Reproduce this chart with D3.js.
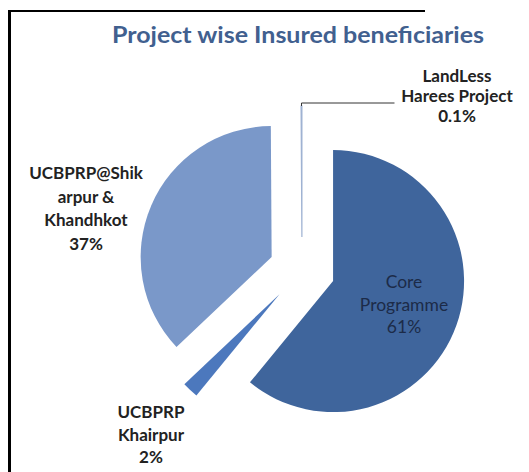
<!DOCTYPE html>
<html lang="en">
<head>
  <meta charset="utf-8">
  <script src="https://d3js.org/d3.v7.min.js"></script>
  <style>
    body { margin: 0; background: #fff; }
    text { font-family: Lato, "Open Sans", sans-serif; }
  </style>
</head>
<body>
  <svg id="chart" width="529" height="472"></svg>
  <script>
    // data
    const names = ["Core Programme", "UCBPRP Khairpur", "UCBPRP@Shikarpur & Khandhkot", "LandLess Harees Project"];
    const values = [61, 2, 37, 0.1];
    const labelLines = [
      ["Core", "Programme", "61%"],
      ["UCBPRP", "Khairpur", "2%"],
      ["UCBPRP@Shik", "arpur &", "Khandhkot", "37%"],
      ["LandLess", "Harees Project", "0.1%"]
    ];
    const colors = ["#3f659c", "#4c78bd", "#7a98c9", "#9fb2d2"];

    let svg = d3.select("#chart");

    // frame (only top and left edges are in the picture)
    svg.append("line").attr("x1", 8).attr("y1", 11).attr("x2", 425).attr("y2", 11)
      .attr("stroke", "#000").attr("stroke-width", 2);
    svg.append("line").attr("x1", 9.5).attr("y1", 10).attr("x2", 9.5).attr("y2", 472)
      .attr("stroke", "#000").attr("stroke-width", 3);

    svg.append("text")
      .attr("x", 298).attr("y", 43)
      .attr("text-anchor", "middle")
      .attr("font-size", 23).attr("font-weight", "bold")
      .attr("textLength", 372).attr("lengthAdjust", "spacingAndGlyphs")
      .attr("fill", "#41608f")
      .text("Project wise Insured beneficiaries");

    let cx = 302, cy = 270, radius = 131, explode = 33;

    let pie = d3.pie().sort(null).value(d => d);
    let arcs = pie(values);
    let arc = d3.arc().innerRadius(0).outerRadius(radius);

    let g = svg.append("g").attr("transform", "translate(" + cx + "," + cy + ")");

    function offset(d) {
      let a = (d.startAngle + d.endAngle) / 2;
      return [explode * Math.sin(a), -explode * Math.cos(a)];
    }

    g.selectAll("path").data(arcs)
      .enter()
      .append("path")
      .attr("d", arc)
      .attr("transform", d => "translate(" + offset(d) + ")")
      .attr("fill", (d, i) => colors[i])
      .attr("stroke", (d, i) => i === 3 ? colors[i] : "none")
      .attr("stroke-width", 1.2);

    // leader line for the tiny slice
    let tiny = arcs[3];
    let o = offset(tiny);
    let ang = (tiny.startAngle + tiny.endAngle) / 2;
    let tip = [o[0] + radius * Math.sin(ang), o[1] - radius * Math.cos(ang)];
    g.append("polyline")
      .attr("points", [tip, [tip[0], tip[1] - 3], [tip[0] + 93, tip[1] - 3]].map(p => p.join(",")).join(" "))
      .attr("fill", "none").attr("stroke", "#333").attr("stroke-width", 1);

    // labels
    let labelPos = [
      { x: 404, y: 288, dy: 22.5, color: "#1c2b48", weight: "normal", size: 17.5 },
      { x: 151, y: 418, dy: 22.5, color: "#222", weight: "bold", size: 17 },
      { x: 86, y: 179, dy: 23.5, color: "#222", weight: "bold", size: 17 },
      { x: 457, y: 82, dy: 20, color: "#222", weight: "bold", size: 17 }
    ];

    labelLines.forEach((lines, i) => {
      let p = labelPos[i];
      let t = svg.append("text")
        .attr("text-anchor", "middle")
        .attr("font-size", p.size)
        .attr("font-weight", p.weight)
        .attr("fill", p.color);
      lines.forEach((line, j) => {
        t.append("tspan").attr("x", p.x).attr("y", p.y + j * p.dy).text(line);
      });
    });
  </script>
</body>
</html>
